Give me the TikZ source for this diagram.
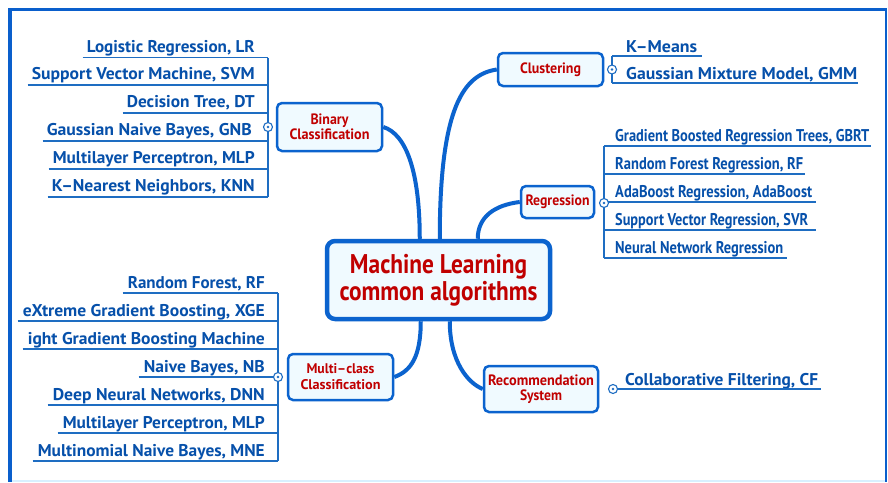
\documentclass[tikz,border=0pt]{standalone}
\usepackage{fontspec}
\setmainfont{PT Sans}
\usepackage{graphicx}
\usetikzlibrary{calc}
\newcommand{\fitw}[2]{\resizebox{#1pt}{\height}{#2}}
\definecolor{txtblue}{HTML}{0650AA}
\definecolor{lnblue}{HTML}{1E6DC2}
\definecolor{cnblue}{HTML}{0B63CE}
\definecolor{boxfill}{HTML}{F0FAFF}
\definecolor{redtxt}{HTML}{C00000}
\definecolor{framecol}{HTML}{0A5FCC}
\definecolor{lightedge}{HTML}{D8F0FF}
\tikzset{
  item/.style={inner sep=0pt, text=txtblue, font=\bfseries\fontsize{17}{17}\selectfont},
  uline/.style={draw=lnblue, line width=1.5pt},
  branch/.style={draw=cnblue, line width=2.5pt, fill=boxfill, rounded corners=5pt, text=redtxt,
    font=\bfseries\fontsize{15}{14.5}\selectfont, align=center, inner sep=0pt},
  centre/.style={draw=cnblue, line width=4.5pt, fill=boxfill, rounded corners=8pt, text=redtxt,
    font=\bfseries\fontsize{27}{27}\selectfont, align=center, inner sep=0pt},
  conn/.style={draw=cnblue, line width=4pt},
  hubmark/.style={circle, draw=lnblue, fill=white, line width=1.1pt, minimum size=9pt, inner sep=0pt},
}
\begin{document}
\begin{tikzpicture}[x=1pt,y=-1pt]
\useasboundingbox (0,0) rectangle (888,482);
\fill[white] (0,0) rectangle (888,482);
% frame
\draw[lightedge, line width=2pt] (10,481) -- (886,481);
\draw[framecol, line width=3pt] (8.5,9) -- (887,9);
\draw[framecol, line width=4pt] (10,8) -- (10,482);
\draw[framecol, line width=1.5pt] (886,9) -- (886,482);

% central node
\node[centre, minimum width=223pt, minimum height=78pt] (ml) at (438.5,280)
  {\fitw{177}{Machine Learning}\\\fitw{198}{common algorithms}};

% branch nodes
\node[branch, minimum width=105pt, minimum height=48pt] (bin) at (329.5,127)
  {\fitw{38}{Binary}\\\fitw{80}{Classification}};
\node[branch, minimum width=105pt, minimum height=33pt] (clu) at (550.5,69.5)
  {\fitw{61}{Clustering}};
\node[branch, minimum width=73pt, minimum height=32pt] (reg) at (557.5,202)
  {\fitw{64}{Regression}};
\node[branch, minimum width=105pt, minimum height=46pt, font=\bfseries\fontsize{14}{16}\selectfont] (mul) at (340.5,377)
  {\fitw{68}{Multi–class}\\\fitw{80}{Classification}};
\node[branch, minimum width=114pt, minimum height=46pt, font=\bfseries\fontsize{15}{15.3}\selectfont] (rec) at (541,389)
  {\fitw{106}{Recommendation}\\\fitw{42}{System}};

% connectors central -> branches
\coordinate (mlb) at ($(ml.north west)+(95,0)$);
\coordinate (mlc) at ($(ml.north west)+(115,0)$);
\coordinate (mlr) at ($(ml.north west)+(153,0)$);
\coordinate (mlm) at ($(ml.south west)+(96,0)$);
\coordinate (mlk) at ($(ml.south west)+(125,0)$);
\draw[conn] (bin.east) .. controls +(23,7) and +(0,-67) .. (mlb);
\draw[conn] (clu.west) .. controls +(-33,5) and +(0,-132) .. (mlc);
\draw[conn] (reg.west) .. controls +(-25,3) and +(0,-22) .. (mlr);
\draw[conn] (mlm) .. controls +(0,35) and +(17,-6) .. (mul.east);
\draw[conn] (mlk) .. controls +(0,40) and +(-15,-6) .. (rec.west);

% ---- Binary classification list
\coordinate (bhub) at (268,127);
\node[item, anchor=base east] (b1) at (255,52) {\fitw{168}{Logistic Regression, LR}};
\node[item, anchor=base east] (b2) at (255,79.5) {\fitw{223}{Support Vector Machine, SVM}};
\node[item, anchor=base east] (b3) at (255,107.5) {\fitw{128}{Decision Tree, DT}};
\node[item, anchor=base east] (b4) at (252,135.5) {\fitw{205}{Gaussian Naive Bayes, GNB}};
\node[item, anchor=base east] (b5) at (255,163.5) {\fitw{202}{Multilayer Perceptron, MLP}};
\node[item, anchor=base east] (b6) at (255,191.5) {\fitw{203}{K–Nearest Neighbors, KNN}};
\foreach \n in {b1,b2,b3,b4,b5,b6}{
  \draw[uline] ($(\n.base west)+(-4,5.5)$) -- ($(\n.base west -| bhub)+(0,5.5)$);
}
\draw[uline] ($(b1.base west -| bhub)+(0,5.5)$) -- ($(b6.base west -| bhub)+(0,5.5)$);
\node[hubmark] (bm) at (bhub) {};
\fill[lnblue] (bm.center) circle (1.4);

% ---- Multi-class list
\coordinate (mhub) at (278,377);
\node[item, anchor=base east] (m1) at (265,288) {\fitw{137}{Random Forest, RF}};
\node[item, anchor=base east] (m2) at (265,316) {\fitw{242}{eXtreme Gradient Boosting, XGE}};
\node[item, anchor=base east] (m3) at (265,344) {\fitw{237}{ight Gradient Boosting Machine}};
\node[item, anchor=base east] (m4) at (265,372) {\fitw{121}{Naive Bayes, NB}};
\node[item, anchor=base east] (m5) at (265,400) {\fitw{212}{Deep Neural Networks, DNN}};
\node[item, anchor=base east] (m6) at (265,428) {\fitw{202}{Multilayer Perceptron, MLP}};
\node[item, anchor=base east] (m7) at (265,456) {\fitw{227}{Multinomial Naive Bayes, MNE}};
\foreach \n in {m1,m2,m3,m4,m5,m6,m7}{
  \draw[uline] ($(\n.base west)+(-5,5)$) -- ($(\n.base west -| mhub)+(0,5)$);
}
\draw[uline] ($(m1.base west -| mhub)+(0,5)$) -- ($(m7.base west -| mhub)+(0,5)$);
\node[hubmark] (mm) at (mhub) {};
\fill[lnblue] (mm.center) circle (1.4);

% ---- Clustering list
\coordinate (chub) at (612,69.5);
\node[item, anchor=base west] (c1) at (626,52) {\fitw{71}{K–Means}};
\node[item, anchor=base west] (c2) at (626,79) {\fitw{231}{Gaussian Mixture Model, GMM}};
\draw[uline] ($(c1.base west -| chub)+(0,4)$) -- ($(c1.base east)+(5,4)$);
\draw[uline] ($(c2.base west -| chub)+(0,4)$) -- ($(c2.base east)+(1,4)$);
\draw[uline] ($(c1.base west -| chub)+(0,4)$) -- ($(c2.base west -| chub)+(0,4)$);
\node[hubmark] (cm) at (chub) {};
\fill[lnblue] (cm.center) circle (1.4);

% ---- Regression list
\coordinate (rhub) at (604,203);
\node[item, anchor=base west] (r1) at (615,141) {\fitw{254}{Gradient Boosted Regression Trees, GBRT}};
\node[item, anchor=base west] (r2) at (615,169) {\fitw{188}{Random Forest Regression, RF}};
\node[item, anchor=base west] (r3) at (615,197) {\fitw{197}{AdaBoost Regression, AdaBoost}};
\node[item, anchor=base west] (r4) at (615,225) {\fitw{193}{Support Vector Regression, SVR}};
\node[item, anchor=base west] (r5) at (615,253) {\fitw{168}{Neural Network Regression}};
\draw[uline] ($(r1.base west -| rhub)+(0,5)$) -- ($(r1.base east)+(2,5)$);
\draw[uline] ($(r2.base west -| rhub)+(0,5)$) -- ($(r2.base east)+(2,5)$);
\draw[uline] ($(r3.base west -| rhub)+(0,5)$) -- ($(r3.base east)+(4,5)$);
\draw[uline] ($(r4.base west -| rhub)+(0,5)$) -- ($(r4.base east)+(8,5)$);
\draw[uline] ($(r5.base west -| rhub)+(0,5)$) -- ($(r5.base east)+(4,5)$);
\draw[uline] ($(r1.base west -| rhub)+(0,5)$) -- ($(r5.base west -| rhub)+(0,5)$);
\node[hubmark] (rm) at (rhub) {};
\fill[lnblue] (rm.center) circle (1.4);

% ---- Recommendation list
\coordinate (khub) at (613,389);
\node[item, anchor=base west] (k1) at (625,385) {\fitw{193}{Collaborative Filtering, CF}};
\draw[uline] (khub) -- ($(k1.base east)+(3,4)$);
\node[hubmark] (km) at (khub) {};
\fill[lnblue] (km.center) circle (1.4);
\end{tikzpicture}
\end{document}
